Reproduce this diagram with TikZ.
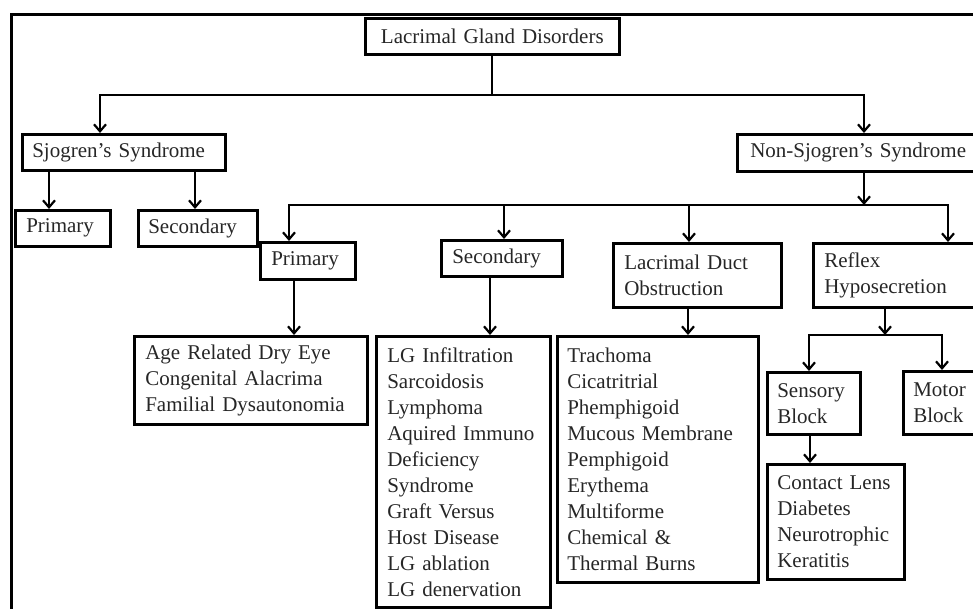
\documentclass[tikz,border=0pt]{standalone}
\usepackage{fontspec}
\setmainfont{Liberation Serif}
\usetikzlibrary{arrows.meta}
\begin{document}
\begin{tikzpicture}[x=1pt,y=-1pt,
  box/.style={draw, line width=2.6pt, anchor=north west, inner ysep=0pt,
    align=left, text=black!85, font=\fontsize{21}{26}\selectfont},
  conn/.style={line width=2.2pt, line join=miter},
  arr/.style={conn, -{Straight Barb[length=7pt,width=12pt]}},
  frame/.style={line width=3pt}]
\useasboundingbox (0,0) rectangle (973,609);
\clip (0,0) rectangle (973,609);
\draw[frame] (11,615) -- (11,15) -- (990,15);
% nodes
\node[box, align=center, inner xsep=12pt, text width=230pt, minimum height=36pt] (root) at (364,17) {Lacrimal~Gland~Disorders};
\node[box, inner xsep=10pt, text width=183pt, minimum height=36pt] (sj) at (21,133) {Sjogren’s~Syndrome};
\node[box, inner xsep=11pt, text width=73pt, minimum height=36pt] (sp) at (14,209) {Primary};
\node[box, inner xsep=10pt, text width=99pt, minimum height=36pt] (ss) at (137,209) {Secondary};
\node[box, inner xsep=13pt, text width=223pt, minimum height=37pt] (nsj) at (736,133) {Non-Sjogren’s~Syndrome};
\node[box, inner xsep=11pt, text width=73pt, minimum height=37pt] (np) at (259,241) {Primary};
\node[box, inner xsep=11pt, text width=99pt, minimum height=36pt] (ns) at (440,239) {Secondary};
\node[box, inner xsep=11pt, text width=146pt, minimum height=64pt] (ld) at (612,242) {Lacrimal~Duct\\Obstruction};
\node[box, inner xsep=11pt, text width=151pt, minimum height=64pt] (ref) at (812,242) {Reflex\\Hyposecretion};
\node[box, inner xsep=11pt, text width=211pt, minimum height=88pt] (age) at (133,335) {Age~Related~Dry~Eye\\Congenital~Alacrima\\Familial~Dysautonomia};
\node[box, inner xsep=11pt, text width=152pt, minimum height=271pt] (lg) at (375,335) {LG~Infiltration\\Sarcoidosis\\Lymphoma\\Aquired~Immuno\\Deficiency\\Syndrome\\Graft~Versus\\Host~Disease\\LG~ablation\\LG~denervation};
\node[box, inner xsep=10pt, text width=181pt, minimum height=246pt] (tr) at (556,335) {Trachoma\\Cicatritrial\\Phemphigoid\\Mucous~Membrane\\Pemphigoid\\Erythema\\Multiforme\\Chemical~\&\\Thermal~Burns};
\node[box, inner xsep=10pt, text width=73pt, minimum height=62pt] (sen) at (766,371) {Sensory\\Block};
\node[box, inner xsep=10pt, text width=63pt, minimum height=63pt] (mot) at (902,370) {Motor\\Block};
\node[box, inner xsep=10pt, text width=117pt, minimum height=115pt] (con) at (766,463) {Contact~Lens\\Diabetes\\Neurotrophic\\Keratitis};
% helper coordinates
\coordinate (a1) at (100,95);
\coordinate (a2) at (864,95);
\coordinate (s1) at (49,0);
\coordinate (s2) at (195,0);
\coordinate (b2) at (864,205);
\coordinate (c1) at (289,205);
\coordinate (c2) at (504,205);
\coordinate (c3) at (689,205);
\coordinate (c4) at (948,205);
\coordinate (d1) at (294,0);
\coordinate (d2) at (490,0);
\coordinate (d3) at (688,0);
\coordinate (e0) at (885,335);
\coordinate (e1) at (809,335);
\coordinate (e2) at (942,335);
\coordinate (f1) at (810,0);
% connectors
\draw[arr] (root.south) |- (a1) -- (sj.north -| a1);
\draw[arr] (root.south) |- (a2) -- (nsj.north -| a2);
\draw[arr] (sj.south -| s1) -- (sp.north -| s1);
\draw[arr] (sj.south -| s2) -- (ss.north -| s2);
\draw[arr] (nsj.south -| b2) -- (b2);
\draw[arr] (c4) -- (c1) -- (np.north -| c1);
\draw[arr] (c1) -- (c4) -- (ref.north -| c4);
\draw[arr] (c2) -- (ns.north -| c2);
\draw[arr] (c3) -- (ld.north -| c3);
\draw[arr] (np.south -| d1) -- (age.north -| d1);
\draw[arr] (ns.south -| d2) -- (lg.north -| d2);
\draw[arr] (ld.south -| d3) -- (tr.north -| d3);
\draw[arr] (ref.south -| e0) -- (e0);
\draw[arr] (e2) -- (e1) -- (sen.north -| e1);
\draw[arr] (e1) -- (e2) -- (mot.north -| e2);
\draw[arr] (sen.south -| f1) -- (con.north -| f1);
\end{tikzpicture}
\end{document}
